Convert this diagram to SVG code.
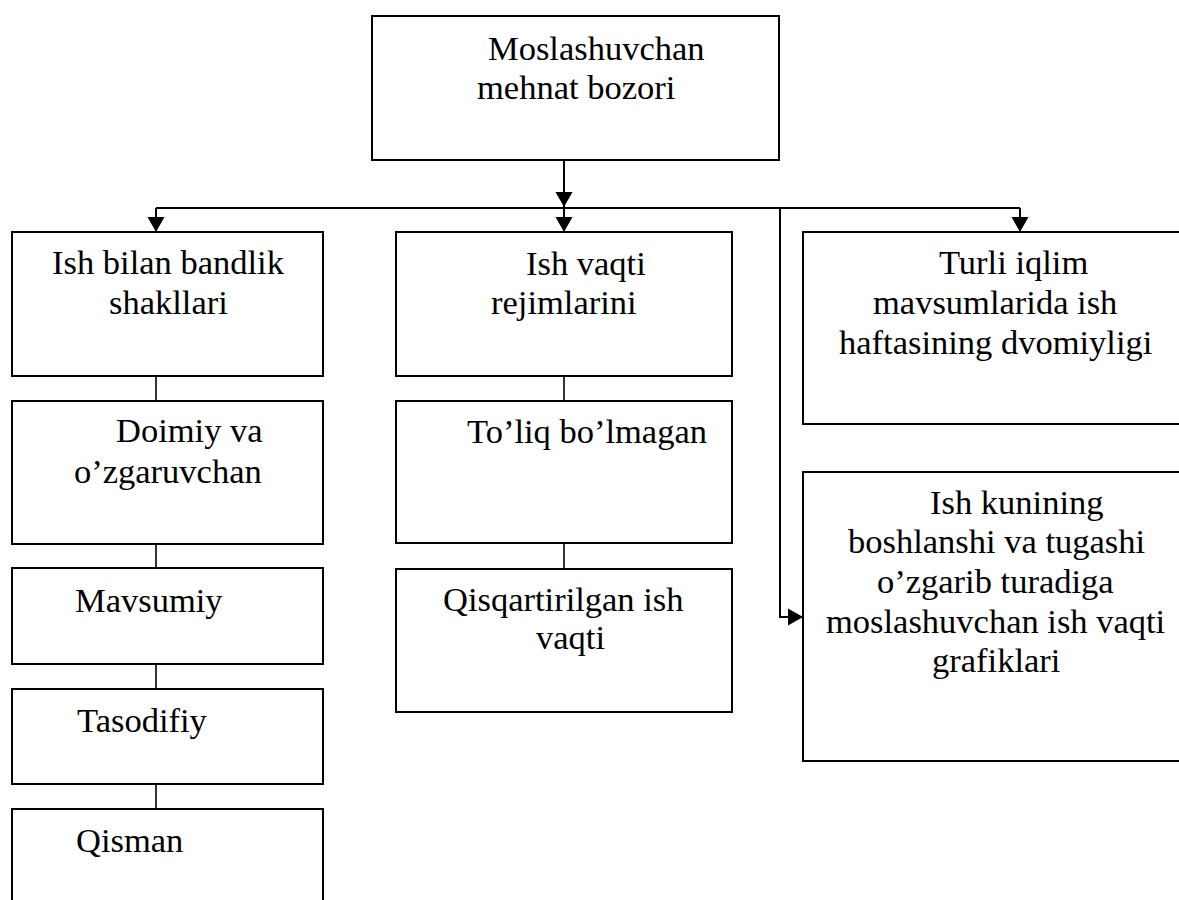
<svg xmlns="http://www.w3.org/2000/svg" width="1179" height="900" viewBox="0 0 1179 900">
<style>
.box{fill:#fff;stroke:#000;stroke-width:2}
.t{font-family:"Liberation Serif","Times New Roman",serif;font-size:34.5px;fill:#000}
.c{fill:none;stroke:#000;stroke-width:2}
.s{fill:none;stroke:#000;stroke-width:1.6}
</style>
<defs>
<marker id="ah" markerUnits="userSpaceOnUse" markerWidth="16" markerHeight="18" refX="15" refY="8.5" orient="auto" viewBox="0 0 16 17">
<path d="M0,0 L15,8.5 L0,17 z" fill="#000"/>
</marker>
</defs>
<rect width="1179" height="900" fill="#fff"/>
<g id="connectors">
<line class="c" x1="564" y1="160" x2="564" y2="207" marker-end="url(#ah)"/>
<line class="c" x1="156" y1="208" x2="1020" y2="208"/>
<line class="c" x1="156" y1="208" x2="156" y2="232" marker-end="url(#ah)"/>
<line class="c" x1="564" y1="208" x2="564" y2="232" marker-end="url(#ah)"/>
<line class="c" x1="1020" y1="208" x2="1020" y2="232" marker-end="url(#ah)"/>
<polyline class="c" points="780,208 780,617 803,617" marker-end="url(#ah)"/>
<line class="s" x1="156" y1="376" x2="156" y2="401"/>
<line class="s" x1="156" y1="544" x2="156" y2="568"/>
<line class="s" x1="156" y1="664" x2="156" y2="689"/>
<line class="s" x1="156" y1="784" x2="156" y2="809"/>
<line class="s" x1="564" y1="376" x2="564" y2="401"/>
<line class="s" x1="564" y1="543" x2="564" y2="569"/>
</g>
<g id="root">
<rect class="box" x="372" y="16" width="407" height="144"/>
<text class="t" x="488" y="60">Moslashuvchan</text>
<text class="t" x="477" y="99">mehnat bozori</text>
</g>
<g id="n-bandlik">
<rect class="box" x="12" y="232" width="311" height="144"/>
<text class="t" x="52" y="274">Ish bilan bandlik</text>
<text class="t" x="109" y="314">shakllari</text>
</g>
<g id="n-doimiy">
<rect class="box" x="12" y="401" width="311" height="143"/>
<text class="t" x="116" y="442">Doimiy va</text>
<text class="t" x="74" y="483">o’zgaruvchan</text>
</g>
<g id="n-mavsumiy">
<rect class="box" x="12" y="568" width="311" height="96"/>
<text class="t" x="75" y="612">Mavsumiy</text>
</g>
<g id="n-tasodifiy">
<rect class="box" x="12" y="689" width="311" height="95"/>
<text class="t" x="77" y="732">Tasodifiy</text>
</g>
<g id="n-qisman">
<rect class="box" x="12" y="809" width="311" height="120"/>
<text class="t" x="76" y="852">Qisman</text>
</g>
<g id="n-ishvaqti">
<rect class="box" x="396" y="232" width="336" height="144"/>
<text class="t" x="526" y="275">Ish vaqti</text>
<text class="t" x="491" y="314">rejimlarini</text>
</g>
<g id="n-toliq">
<rect class="box" x="396" y="401" width="336" height="142"/>
<text class="t" x="467" y="443">To’liq bo’lmagan</text>
</g>
<g id="n-qisqartirilgan">
<rect class="box" x="396" y="569" width="336" height="143"/>
<text class="t" x="443" y="611">Qisqartirilgan ish</text>
<text class="t" x="536" y="649">vaqti</text>
</g>
<g id="n-turli">
<rect class="box" x="803" y="232" width="400" height="192"/>
<text class="t" x="939" y="274">Turli iqlim</text>
<text class="t" x="873" y="314">mavsumlarida ish</text>
<text class="t" x="839" y="354">haftasining dvomiyligi</text>
</g>
<g id="n-kunining">
<rect class="box" x="803" y="472" width="400" height="289"/>
<text class="t" x="930" y="514">Ish kunining</text>
<text class="t" x="848" y="553">boshlanshi va tugashi</text>
<text class="t" x="877" y="593">o’zgarib turadiga</text>
<text class="t" x="826" y="633">moslashuvchan ish vaqti</text>
<text class="t" x="932" y="672">grafiklari</text>
</g>
</svg>
